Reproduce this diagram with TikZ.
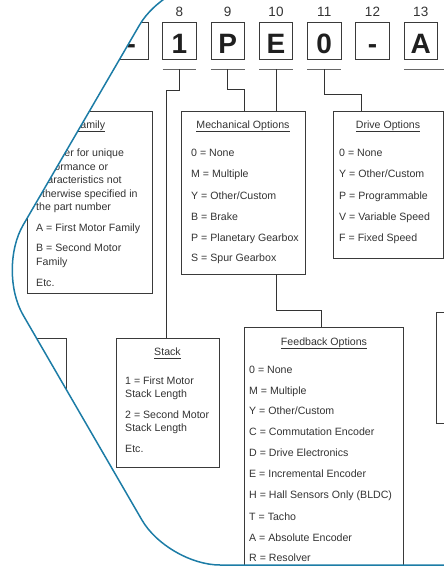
\documentclass[tikz,border=0pt]{standalone}
\usepackage{fontspec}
\setmainfont{Liberation Sans}
\definecolor{hexblue}{HTML}{1C7CA6}
\definecolor{txt}{HTML}{333333}
\definecolor{edge}{HTML}{3A3A3A}
\newcommand\myul[1]{\setbox0\hbox{#1}\rlap{\rule[-2.4pt]{\wd0}{0.7pt}}\box0}
\tikzset{
  optbox/.style={draw=edge, line width=0.9pt, inner sep=0, anchor=north west},
  digbox/.style={draw=edge, line width=0.9pt, inner sep=0, minimum width=33.5pt, minimum height=37pt},
  item/.style={anchor=base west, inner sep=0, font=\fontsize{10.6}{12}\selectfont, text=txt},
  ttl/.style={anchor=base, inner sep=0, font=\fontsize{10.6}{12}\selectfont, text=txt},
  digit/.style={anchor=base, inner sep=0, font=\fontsize{28}{30}\selectfont\bfseries, text=black!88},
  num/.style={anchor=base, inner sep=0, font=\fontsize{13.5}{15}\selectfont, text=txt},
  conn/.style={draw=black!80, line width=0.9pt},
  barline/.style={draw=black!60, line width=1pt},
  barnode/.style={inner sep=0, minimum width=33.5pt, minimum height=0pt}
}
\begin{document}
\begin{tikzpicture}[x=1pt,y=-1pt]
\useasboundingbox (0,0) rectangle (444,568);
\begin{scope}
\clip[rounded corners=52pt] (700,-20) -- (165.7,-20) -- (-3,270) -- (168,565) -- (700,565) -- cycle;
% top row boxes
\foreach \k/\c/\ch in {7/131.25/-,8/179.5/1,9/227.75/P,10/276/E,11/324.25/0,12/372.5/-,13/420.75/A}{
  \node[digbox] (d\k) at (\c,40.5) {};
  \node[digit] (g\k) at (\c,53) {\ch};
}
\foreach \k/\c in {8/179.5,9/227.75,10/276,11/324.25,12/372.5,13/420.75}{
  \node[num] (n\k) at (\c,16.8) {\k};
}
% bars under boxes
\foreach \k/\c in {8/179.5,9/227.75,10/276,11/324.25}{
  \node[barnode] (b\k) at (\c,69) {};
  \draw[barline] (b\k.west) -- (b\k.east);
}
\node[inner sep=0, minimum width=41pt, minimum height=0pt] (b13) at (424.5,69) {};
\draw[barline] (b13.west) -- (b13.east);

% option boxes
\node[optbox, minimum width=125pt, minimum height=182pt] (fam) at (27,111) {};
\node[optbox, minimum width=106pt, minimum height=142pt] (lft) at (-40,338) {};
\node[optbox, minimum width=103pt, minimum height=129pt] (stack) at (116,338) {};
\node[optbox, minimum width=124pt, minimum height=163pt] (mech) at (181,111) {};
\node[optbox, minimum width=110pt, minimum height=147pt] (drive) at (333,111) {};
\node[optbox, minimum width=159pt, minimum height=270pt] (fb) at (244,327) {};
\node[optbox, minimum width=60pt, minimum height=111pt] (rgt) at (436,312) {};

% connectors
\coordinate (k8) at (166,90);
\draw[conn] (b8.center) |- (k8) -- (k8 |- stack.north);
\coordinate (k9) at (244,89);
\draw[conn] (b9.center) |- (k9) -- (k9 |- mech.north);
\draw[conn] (b10.center) -- (b10.center |- mech.north);
\coordinate (k11) at (361,94);
\draw[conn] (b11.center) |- (k11) -- (k11 |- drive.north);
\coordinate (km) at (276,274);
\coordinate (kf) at (321,310);
\draw[conn] (km) |- (kf) -- (kf |- fb.north);

% Family box
\node[ttl] (famt) at (89.5,128.8) {\myul{Family}};
\node[item] (f1) at (36,156.8) {Number for unique};
\node[item] (f2) at (36,170.3) {performance or};
\node[item] (f3) at (36,183.8) {characteristics not};
\node[item] (f4) at (36,197.3) {otherwise specified in};
\node[item] (f5) at (36,210.8) {the part number};
\node[item] (f6) at (36,231.5) {A = First Motor Family};
\node[item] (f7) at (36,251.5) {B = Second Motor};
\node[item] (f8) at (36,265.8) {Family};
\node[item] (f9) at (36,286.5) {Etc.};

% Mechanical
\node[ttl] (mt) at (243,128.8) {\myul{Mechanical Options}};
\node[item] (m1) at (191,156.8) {0 = None};
\node[item] (m2) at (191,177.8) {M = Multiple};
\node[item] (m3) at (191,199.3) {Y = Other/Custom};
\node[item] (m4) at (191,220.5) {B = Brake};
\node[item] (m5) at (191,241) {P = Planetary Gearbox};
\node[item] (m6) at (191,261.8) {S = Spur Gearbox};

% Drive
\node[ttl] (dt) at (388,128.8) {\myul{Drive Options}};
\node[item] (r1) at (339,156.8) {0 = None};
\node[item] (r2) at (339,177.8) {Y = Other/Custom};
\node[item] (r3) at (339,199.3) {P = Programmable};
\node[item] (r4) at (339,220.5) {V = Variable Speed};
\node[item] (r5) at (339,241.5) {F = Fixed Speed};

% Stack
\node[ttl] (st) at (167.5,355.8) {\myul{Stack}};
\node[item] (s1) at (125,384.8) {1 = First Motor};
\node[item] (s2) at (125,397.8) {Stack Length};
\node[item] (s3) at (125,418.8) {2 = Second Motor};
\node[item] (s4) at (125,431.8) {Stack Length};
\node[item] (s5) at (125,452.8) {Etc.};

% Feedback
\node[ttl] (ft) at (324,345.8) {\myul{Feedback Options}};
\node[item] (e1) at (249,373.3) {0 = None};
\node[item] (e2) at (249,394.3) {M = Multiple};
\node[item] (e3) at (249,414.8) {Y = Other/Custom};
\node[item] (e4) at (249,435.8) {C = Commutation Encoder};
\node[item] (e5) at (249,456.8) {D = Drive Electronics};
\node[item] (e6) at (249,477.8) {E = Incremental Encoder};
\node[item] (e7) at (249,498.8) {H = Hall Sensors Only (BLDC)};
\node[item] (e8) at (249,520.3) {T = Tacho};
\node[item] (e9) at (249,541.3) {A = Absolute Encoder};
\node[item] (e10) at (249,561.8) {R = Resolver};
\end{scope}
\draw[hexblue, line width=1.5pt, rounded corners=52pt] (700,-20) -- (165.7,-20) -- (-3,270) -- (168,565) -- (700,565);
\end{tikzpicture}
\end{document}
